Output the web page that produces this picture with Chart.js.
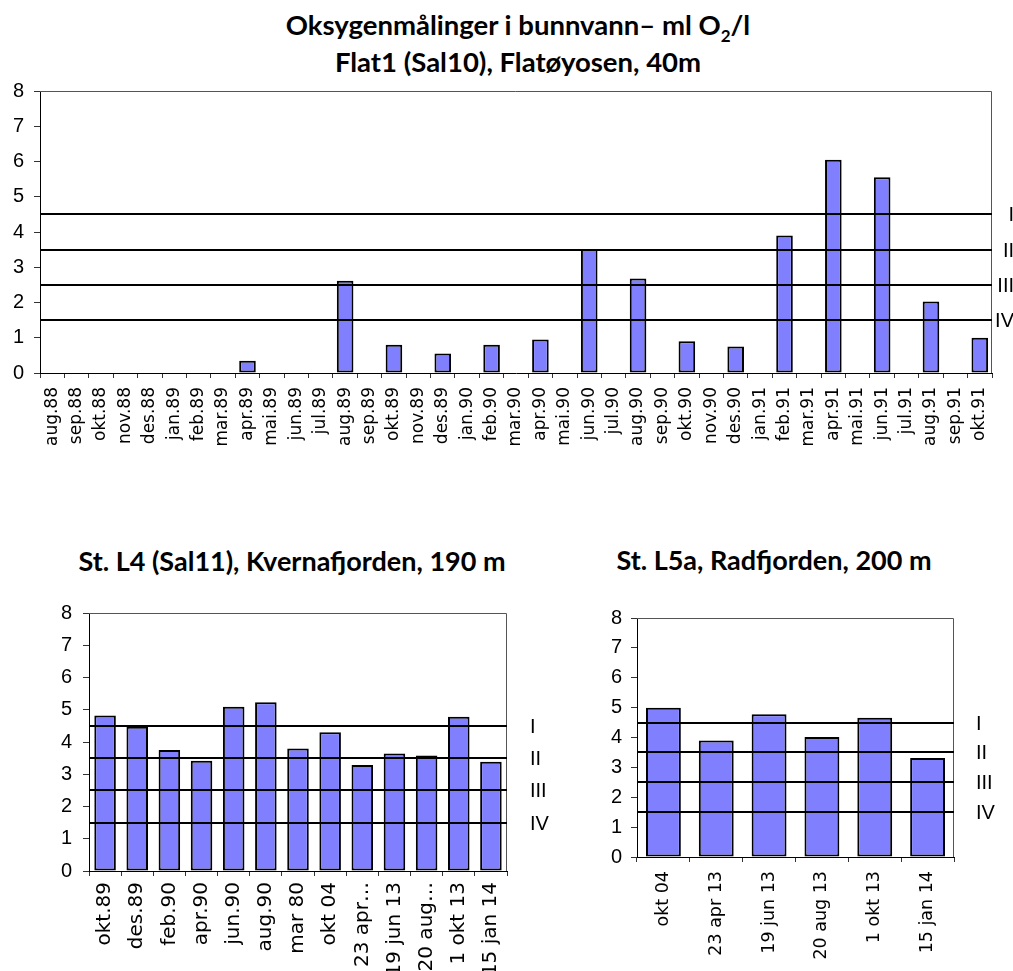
<!DOCTYPE html>
<html>
<head>
<meta charset="utf-8">
<script src="https://cdn.jsdelivr.net/npm/chart.js@4.4.0/dist/chart.umd.min.js"></script>
<style>
body{margin:0;background:#fff;width:1013px;height:971px;overflow:hidden;position:relative}
.t{position:absolute;font-family:Lato,'Open Sans',sans-serif;font-weight:700;color:#000;text-align:center;white-space:nowrap}
.t sub{font-size:17px;line-height:0}
canvas{position:absolute}
</style>
</head>
<body>
<div class="t" style="left:218px;width:600px;top:6px;font-size:27.5px;line-height:37px">Oksygenmålinger i bunnvann– ml O<sub>2</sub>/l<br>Flat1 (Sal10), Flatøyosen, 40m</div>
<div class="t" style="left:-8px;width:600px;top:546px;font-size:27px;line-height:30px">St. L4 (Sal11), Kvernafjorden, 190 m</div>
<div class="t" style="left:474px;width:600px;top:545px;font-size:27px;line-height:30px">St. L5a, Radfjorden, 200 m</div>
<canvas id="c1" width="1013" height="460" style="left:0;top:0"></canvas>
<canvas id="c2" width="560" height="381" style="left:0;top:590px"></canvas>
<canvas id="c3" width="453" height="381" style="left:560px;top:590px"></canvas>
<script>
// Flat1 (Sal10), monthly, aug.88 - okt.91 (null = no measurement)
const monthsFlat=['aug.88','sep.88','okt.88','nov.88','des.88',
  'jan.89','feb.89','mar.89','apr.89','mai.89','jun.89','jul.89','aug.89','sep.89','okt.89','nov.89','des.89',
  'jan.90','feb.90','mar.90','apr.90','mai.90','jun.90','jul.90','aug.90','sep.90','okt.90','nov.90','des.90',
  'jan.91','feb.91','mar.91','apr.91','mai.91','jun.91','jul.91','aug.91','sep.91','okt.91'];
const o2Flat=[null,null,null,null,null,
  null,null,null,0.35,null,null,null,2.62,null,0.8,null,0.55,
  null,0.8,null,0.95,null,3.52,null,2.68,null,0.9,null,0.75,
  null,3.9,null,6.05,null,5.55,null,2.03,null,1.0];

// St. L4 (Sal11)
const datesL4=['okt.89','des.89','feb.90','apr.90','jun.90','aug.90','mar 80','okt 04','23 apr…','19 jun 13','20 aug…','1 okt 13','15 jan 14'];
const o2L4=[4.82,4.47,3.75,3.42,5.09,5.23,3.8,4.3,3.29,3.64,3.58,4.78,3.39];

// St. L5a
const datesL5a=['okt 04','23 apr 13','19 jun 13','20 aug 13','1 okt 13','15 jan 14'];
const o2L5a=[5.0,3.9,4.78,4.02,4.66,3.31];

// tilstandsklasser
const classLevels=[4.5,3.5,2.5,1.5];
const classNames=['I','II','III','IV'];

const classLines={
  id:'classLines',
  afterDatasetsDraw(chart,args,o){
    const {ctx,chartArea:a,scales:{y}}=chart;
    ctx.save();
    ctx.strokeStyle='#555';ctx.lineWidth=1;
    ctx.beginPath();
    ctx.moveTo(a.left,a.top+0.5);ctx.lineTo(a.right-0.5,a.top+0.5);ctx.lineTo(a.right-0.5,a.bottom);
    ctx.stroke();
    ctx.strokeStyle='#000';ctx.lineWidth=2;
    ctx.fillStyle='#000';ctx.font=o.font;ctx.textBaseline='middle';ctx.textAlign=o.align;
    classLevels.forEach((v,i)=>{
      const py=Math.round(y.getPixelForValue(v));
      ctx.beginPath();ctx.moveTo(a.left,py);ctx.lineTo(a.right,py);ctx.stroke();
      const lx=o.align==='right'?chart.width+o.dx:a.right+o.dx;
      ctx.fillText(classNames[i],lx,py+1);
    });
    ctx.restore();
  }
};

function makeChart(id,labels,data,cfg){
  return new Chart(document.getElementById(id),{
    type:'bar',
    data:{labels,datasets:[{data,backgroundColor:'#8080FF',borderColor:'#000',borderWidth:2,borderSkipped:false,
      barPercentage:cfg.bar,categoryPercentage:1}]},
    options:{
      responsive:false,animation:false,
      layout:{padding:{top:cfg.top,right:cfg.right,left:0,bottom:0}},
      plugins:{legend:{display:false},tooltip:{enabled:false},
        classLines:{font:'20px "Liberation Sans", Arial, sans-serif',align:cfg.lblAlign,dx:cfg.lblDx}},
      scales:{
        x:{offset:true,
          grid:{offset:true,drawOnChartArea:false,tickLength:5,color:'#333'},
          border:{color:'#000',width:1},
          ticks:{autoSkip:false,maxRotation:90,minRotation:90,padding:cfg.xPad,color:'#000',
            font:{family:'DejaVu Sans',size:cfg.xFont}},
          afterFit(s){s.height=cfg.xH}},
        y:{min:0,max:8,
          grid:{drawOnChartArea:false,tickLength:6,color:'#333'},
          border:{color:'#000',width:1},
          ticks:{stepSize:1,padding:cfg.yPad,color:'#000',font:{family:'Liberation Sans',size:cfg.yFont}},
          afterFit(s){s.width=cfg.yW}}
      }
    },
    plugins:[classLines]
  });
}

makeChart('c1',monthsFlat,o2Flat,{bar:0.68,top:91,right:21,xH:87,xPad:9,xFont:17,yPad:10,yFont:20,yW:40,lblAlign:'right',lblDx:1});
makeChart('c2',datesL4,o2L4,{bar:0.67,top:16,right:53,xH:100,xPad:6,xFont:20,yPad:11,yFont:20,yW:89,lblAlign:'left',lblDx:23});
makeChart('c3',datesL5a,o2L5a,{bar:0.66,top:28,right:59,xH:114,xPad:9,xFont:17.5,yPad:9,yFont:20,yW:77,lblAlign:'left',lblDx:22});
</script>
</body>
</html>
